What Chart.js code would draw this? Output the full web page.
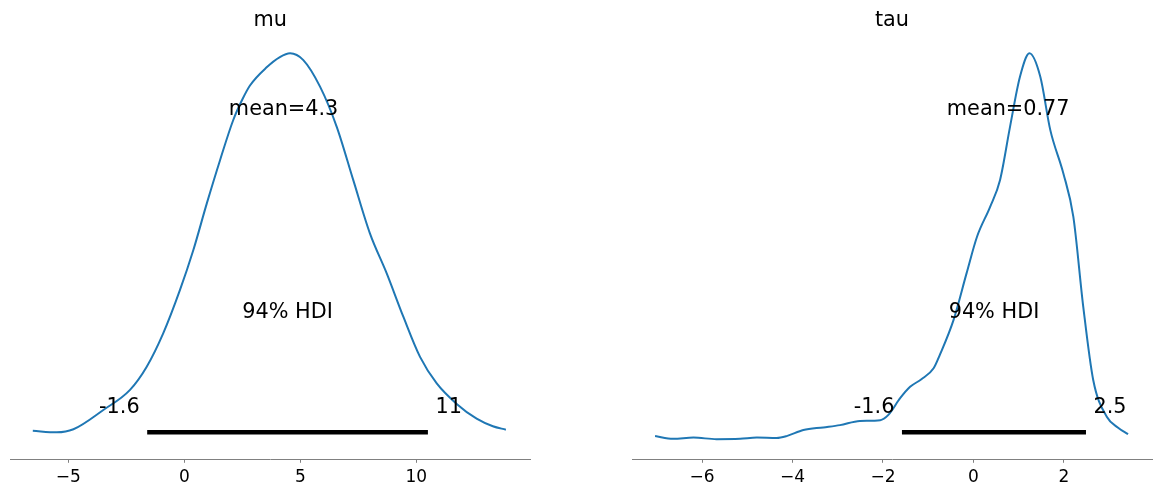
<!DOCTYPE html>
<html>
<head>
<meta charset="utf-8">
<script src="https://cdn.jsdelivr.net/npm/chart.js@4.4.0/dist/chart.umd.min.js"></script>
<style>
  html, body { margin: 0; padding: 0; background: #ffffff; }
  #wrap { position: relative; width: 1160px; height: 497px; overflow: hidden; }
  canvas { position: absolute; top: 0; }
</style>
</head>
<body>
<div id="wrap">
  <canvas id="c1" width="580" height="497" style="left:0px"></canvas>
  <canvas id="c2" width="580" height="497" style="left:580px"></canvas>
</div>
<script>
// ---- data (density scaled so the peak is 1) ----
const titles = ['mu', 'tau'];

const muX = [-6.53, -5.50, -4.78, -3.49, -2.34, -1.62, -0.91, -0.19, 0.39, 0.97, 1.54, 2.11, 2.50, 2.83, 3.55, 4.12, 4.56, 5.13, 5.85, 6.57, 7.28, 8.00, 8.72, 9.44, 10.16, 10.88, 11.74, 12.60, 13.30, 13.86];
const muY = [0.004, 0.000, 0.008, 0.059, 0.112, 0.173, 0.261, 0.375, 0.481, 0.604, 0.718, 0.824, 0.878, 0.915, 0.963, 0.990, 1.000, 0.982, 0.912, 0.806, 0.666, 0.525, 0.420, 0.305, 0.199, 0.129, 0.075, 0.036, 0.016, 0.007];

const tauX = [-7.04, -6.64, -6.19, -5.68, -5.16, -4.79, -4.35, -4.13, -3.76, -3.32, -2.95, -2.51, -2.06, -1.88, -1.62, -1.40, -1.15, -0.88, -0.74, -0.44, -0.15, 0.08, 0.37, 0.59, 0.81, 1.03, 1.24, 1.48, 1.70, 1.99, 2.21, 2.43, 2.65, 2.95, 3.20, 3.42];
const tauY = [-0.010, -0.017, -0.014, -0.018, -0.017, -0.014, -0.015, -0.010, 0.006, 0.013, 0.019, 0.030, 0.032, 0.046, 0.090, 0.120, 0.140, 0.169, 0.205, 0.296, 0.420, 0.516, 0.595, 0.666, 0.806, 0.938, 1.000, 0.938, 0.798, 0.683, 0.569, 0.331, 0.138, 0.041, 0.012, -0.005];

const muTicks = [-5, 0, 5, 10];
const tauTicks = [-6, -4, -2, 0, 2];

const muMean = 4.28, tauMean = 0.77;
const meanLabels = ['mean=4.3', 'mean=0.77'];
const muHdi = [-1.6, 10.5];
const tauHdi = [-1.58, 2.49];
const muHdiLabels = ['-1.6', '11'];
const tauHdiLabels = ['-1.6', '2.5'];
const hdiText = '94% HDI';

// ---- rendering ----
const FONT = "'DejaVu Sans', 'Liberation Sans', sans-serif";
const BLUE = '#1f77b4';
const SPINE = '#808080';

function makeChart(canvasId, title, xs, ys, ticks, range, mean, meanLabel, hdi, hdiLabels, pad) {
  const curve = xs.map((x, i) => ({ x: x, y: ys[i] }));
  const bar = hdi.map(h => ({ x: h, y: 0 }));

  const textPlugin = {
    id: 'texts',
    afterDraw(chart) {
      const ctx = chart.ctx;
      const xs = chart.scales.x, ysc = chart.scales.y;
      const ca = chart.chartArea;
      ctx.save();
      ctx.fillStyle = '#000000';
      ctx.font = '20.8px ' + FONT;
      ctx.textBaseline = 'middle';
      // title
      ctx.textAlign = 'center';
      ctx.fillText(title, (ca.left + ca.right) / 2, 20.5);
      // mean
      ctx.fillText(meanLabel, xs.getPixelForValue(mean), ysc.getPixelForValue(0.851));
      // HDI label
      ctx.fillText(hdiText, xs.getPixelForValue((hdi[0] + hdi[1]) / 2), ysc.getPixelForValue(0.315));
      // HDI bounds
      ctx.textAlign = 'right';
      ctx.fillText(hdiLabels[0], xs.getPixelForValue(hdi[0]) - 7.5, ysc.getPixelForValue(0.066));
      ctx.textAlign = 'left';
      ctx.fillText(hdiLabels[1], xs.getPixelForValue(hdi[1]) + 7.5, ysc.getPixelForValue(0.066));
      ctx.restore();
    }
  };

  return new Chart(document.getElementById(canvasId), {
    type: 'line',
    data: {
      datasets: [
        {
          data: curve,
          borderColor: BLUE,
          borderWidth: 2,
          pointRadius: 0,
          fill: false,
          cubicInterpolationMode: 'monotone'
        },
        {
          data: bar,
          borderColor: '#000000',
          borderWidth: 4.5,
          borderCapStyle: 'butt',
          pointRadius: 0,
          fill: false
        }
      ]
    },
    options: {
      responsive: false,
      animation: false,
      devicePixelRatio: 1,
      layout: { padding: pad },
      plugins: { legend: { display: false }, tooltip: { enabled: false }, title: { display: false } },
      scales: {
        x: {
          type: 'linear',
          min: range[0],
          max: range[1],
          afterBuildTicks: s => { s.ticks = ticks.map(v => ({ value: v })); },
          afterFit: s => { s.height = 37.7; },
          grid: {
            display: true,
            drawOnChartArea: false,
            drawTicks: true,
            tickLength: 3.5,
            tickColor: SPINE,
            tickWidth: 1
          },
          border: { display: true, color: SPINE, width: 1 },
          ticks: {
            color: '#000000',
            font: { family: FONT, size: 17 },
            padding: 5,
            maxRotation: 0,
            autoSkip: false,
            callback: v => String(v).replace('-', '\u2212')
          }
        },
        y: {
          display: false,
          min: -0.0712,
          max: 1.1
        }
      }
    },
    plugins: [textPlugin]
  });
}

makeChart('c1', titles[0], muX, muY, muTicks, [-7.50, 14.90], muMean, meanLabels[0], muHdi, muHdiLabels,
  { left: 10.3, right: 50, top: 15.4, bottom: 0 });
makeChart('c2', titles[1], tauX, tauY, tauTicks, [-7.55, 3.95], tauMean, meanLabels[1], tauHdi, tauHdiLabels,
  { left: 52, right: 8, top: 15.4, bottom: 0 });
</script>
</body>
</html>
